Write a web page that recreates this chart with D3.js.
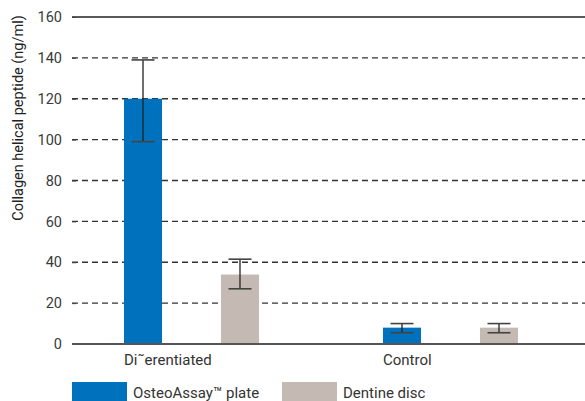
<!DOCTYPE html>
<html><head><meta charset="utf-8">
<script src="https://cdn.jsdelivr.net/npm/d3@7"></script>
<style>body{margin:0;background:#fff}svg{display:block}text{font-family:"Roboto","Liberation Sans",sans-serif}</style>
</head><body>
<script>
const categories = ["Di˜erentiated", "Control"];
const series = ["OsteoAssay™ plate", "Dentine disc"];
const means = [[120, 34], [8, 8]];
const errLow = [[99, 27], [5.5, 5.5]];
const errHigh = [[139, 41.5], [10, 10]];
const yTicks = [0, 20, 40, 60, 80, 100, 120, 140, 160];
const colors = ["#0071bc", "#c4bab3"];

const W = 585, H = 401;
const svg = d3.select("body").append("svg").attr("width", W).attr("height", H);
const y = d3.scaleLinear().domain([0, 160]).range([344, 17]);
const x0 = d3.scaleBand().domain(categories).range([65, 583]);
const x1 = d3.scaleBand().domain(series).range([59, 194]).paddingInner(0.608).paddingOuter(0);

// grid
yTicks.forEach(t => {
  if (t === 0 || t === 160) return;
  svg.append("line").attr("x1", 72).attr("x2", W).attr("y1", y(t)).attr("y2", y(t))
    .attr("stroke", "#333").attr("stroke-width", 1.3).attr("stroke-dasharray", "6,4");
});
svg.append("line").attr("x1", 72).attr("x2", W).attr("y1", y(160)).attr("y2", y(160))
  .attr("stroke", "#222").attr("stroke-width", 1.5);

// y axis ticks/labels
const ya = svg.append("g").attr("transform", "translate(76,0)")
  .call(d3.axisLeft(y).tickValues(yTicks).tickSize(4).tickPadding(10));
ya.select(".domain").remove();
ya.selectAll("line").attr("stroke", "#444");
ya.selectAll("text").attr("font-size", 14.5).attr("fill", "#3a3a3a")
  .style("font-family", "'Roboto',sans-serif");

svg.append("text").attr("transform", "translate(23,118) rotate(-90)")
  .attr("text-anchor", "middle").attr("font-size", 14.5).attr("fill", "#222")
  .text("Collagen helical peptide (ng/ml)");

// bars
categories.forEach((c, ci) => {
  series.forEach((s, si) => {
    const bx = x0(c) + x1(s);
    svg.append("rect").attr("x", bx).attr("width", x1.bandwidth())
      .attr("y", y(means[ci][si])).attr("height", y(0) - y(means[ci][si]))
      .attr("fill", colors[si]);
    const cx = bx + x1.bandwidth() / 2;
    svg.append("line").attr("x1", cx).attr("x2", cx)
      .attr("y1", y(errHigh[ci][si])).attr("y2", y(errLow[ci][si]))
      .attr("stroke", "#222").attr("stroke-width", 1.3);
    [errHigh[ci][si], errLow[ci][si]].forEach(v => {
      svg.append("line").attr("x1", cx - 11.5).attr("x2", cx + 11.5)
        .attr("y1", y(v)).attr("y2", y(v)).attr("stroke", "#444").attr("stroke-width", 1.6);
    });
  });
  svg.append("text").attr("x", x0(c) + x1(series[0])).attr("y", 365)
    .attr("font-size", 15).attr("fill", "#333").text(c);
});

// zero line
svg.append("line").attr("x1", 72).attr("x2", W).attr("y1", y(0)).attr("y2", y(0))
  .attr("stroke", "#555").attr("stroke-width", 1.8);

// legend
const legX = [72, 282];
series.forEach((s, si) => {
  svg.append("rect").attr("x", legX[si]).attr("y", 382).attr("width", 55).attr("height", 25)
    .attr("fill", colors[si]);
  svg.append("text").attr("x", legX[si] + 61).attr("y", 398).attr("font-size", 15)
    .attr("fill", "#333").text(s);
});
</script>
</body></html>
